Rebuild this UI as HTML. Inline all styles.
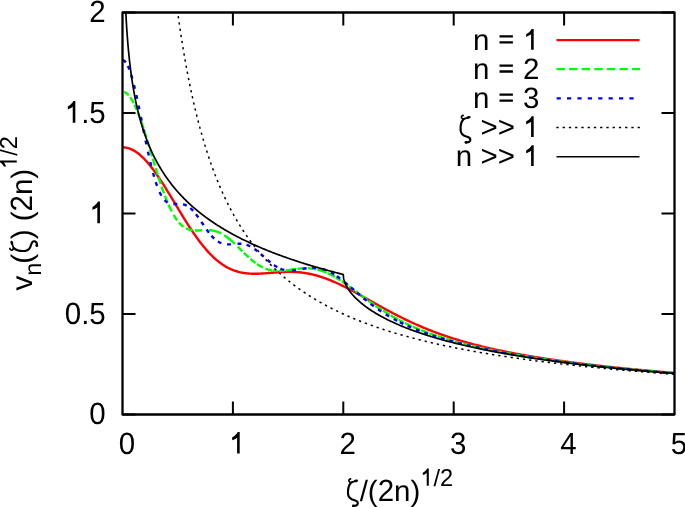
<!DOCTYPE html>
<html><head><meta charset="utf-8">
<style>
html,body{margin:0;padding:0;background:#fff;}
body{width:685px;height:507px;overflow:hidden;}
svg{display:block;will-change:transform;}
text{text-rendering:geometricPrecision;font-family:"Liberation Sans",sans-serif;font-size:29.5px;fill:#000;}
</style></head><body>
<svg width="685" height="507" viewBox="0 0 685 507">
<defs>
<clipPath id="c"><rect x="122.5" y="12.5" width="552" height="402"/></clipPath>
</defs>
<g stroke="#000" stroke-width="2" fill="none">
<path d="M122.5,414.5h13M674.5,414.5h-13 M122.5,314h13M674.5,314h-13 M122.5,213.5h13M674.5,213.5h-13 M122.5,113h13M674.5,113h-13 M122.5,12.5h13M674.5,12.5h-13"/>
<path d="M232.9,414.5v-13M232.9,12.5v13 M343.3,414.5v-13M343.3,12.5v13 M453.7,414.5v-13M453.7,12.5v13 M564.1,414.5v-13M564.1,12.5v13"/>
</g>
<text transform="matrix(1,0,0,1.04,89.35,424.20)">0</text>
<text transform="matrix(1,0,0,1.04,64.75,323.70)">0</text>
<text x="81.15" y="323.70" xml:space="preserve">.</text>
<text transform="matrix(1,0,0,1.04,89.35,323.70)">5</text>
<path d="M359,0 L359,-705 L292,-705 C262,-645 200,-580 104,-530 L104,-434 C170,-458 232,-488 271,-520 L271,0 Z" transform="translate(89.35,223.20) scale(0.02950,0.03068)"/>
<path d="M359,0 L359,-705 L292,-705 C262,-645 200,-580 104,-530 L104,-434 C170,-458 232,-488 271,-520 L271,0 Z" transform="translate(64.75,122.70) scale(0.02950,0.03068)"/>
<text x="81.15" y="122.70" xml:space="preserve">.</text>
<text transform="matrix(1,0,0,1.04,89.35,122.70)">5</text>
<text transform="matrix(1,0,0,1.04,89.35,22.20)">2</text>
<text transform="matrix(1,0,0,1.04,118.70,453.60)">0</text>
<path d="M359,0 L359,-705 L292,-705 C262,-645 200,-580 104,-530 L104,-434 C170,-458 232,-488 271,-520 L271,0 Z" transform="translate(229.10,453.60) scale(0.02950,0.03068)"/>
<text transform="matrix(1,0,0,1.04,339.50,453.60)">2</text>
<text transform="matrix(1,0,0,1.04,449.90,453.60)">3</text>
<text transform="matrix(1,0,0,1.04,560.30,453.60)">4</text>
<text transform="matrix(1,0,0,1.04,670.70,453.60)">5</text>
<g transform="translate(345.10,500.50) scale(0.02950)" fill="none" stroke="#000" stroke-linecap="round" stroke-linejoin="round"><path d="M185,-734 C140,-722 118,-690 128,-660 C138,-630 170,-612 205,-610 C260,-625 300,-650 364,-661" stroke-width="55"/><path d="M205,-610 C130,-530 85,-380 102,-210 C118,-80 205,-40 320,-10 C400,12 440,55 428,110 C412,165 340,188 280,182" stroke-width="72"/><ellipse cx="372" cy="-666" rx="72" ry="46" transform="rotate(-15 372 -666)" fill="#000" stroke="none"/><circle cx="282" cy="180" r="48" fill="#000" stroke="none"/></g>
<text x="359.67" y="500.50" xml:space="preserve">/(</text>
<text transform="matrix(1,0,0,1.04,377.70,500.50)">2</text>
<text x="394.10" y="500.50" xml:space="preserve">n)</text>
<path d="M359,0 L359,-705 L292,-705 C262,-645 200,-580 104,-530 L104,-434 C170,-458 232,-488 271,-520 L271,0 Z" transform="translate(420.33,485.75) scale(0.02360,0.02454)"/>
<text x="433.45" y="485.75" style="font-size:23.60px" xml:space="preserve">/</text>
<text transform="matrix(1,0,0,1.04,440.01,485.75)" style="font-size:23.60px">2</text>
<g transform="translate(31.5,290.6) rotate(-90)"><text x="0.00" y="0.00" xml:space="preserve">v</text>
<text x="14.75" y="9.45" style="font-size:23.60px" xml:space="preserve">n</text>
<text x="26.87" y="0.00" xml:space="preserve">(</text>
<g transform="translate(36.70,0.00) scale(0.02950)" fill="none" stroke="#000" stroke-linecap="round" stroke-linejoin="round"><path d="M185,-734 C140,-722 118,-690 128,-660 C138,-630 170,-612 205,-610 C260,-625 300,-650 364,-661" stroke-width="55"/><path d="M205,-610 C130,-530 85,-380 102,-210 C118,-80 205,-40 320,-10 C400,12 440,55 428,110 C412,165 340,188 280,182" stroke-width="72"/><ellipse cx="372" cy="-666" rx="72" ry="46" transform="rotate(-15 372 -666)" fill="#000" stroke="none"/><circle cx="282" cy="180" r="48" fill="#000" stroke="none"/></g>
<text x="51.27" y="0.00" xml:space="preserve">) (</text>
<text transform="matrix(1,0,0,1.04,79.12,0.00)">2</text>
<text x="95.52" y="0.00" xml:space="preserve">n)</text>
<path d="M359,0 L359,-705 L292,-705 C262,-645 200,-580 104,-530 L104,-434 C170,-458 232,-488 271,-520 L271,0 Z" transform="translate(121.74,-14.75) scale(0.02360,0.02454)"/>
<text x="134.87" y="-14.75" style="font-size:23.60px" xml:space="preserve">/</text>
<text transform="matrix(1,0,0,1.04,141.43,-14.75)" style="font-size:23.60px">2</text></g>
<text x="473.07" y="49.70" xml:space="preserve">n</text>
<path d="M62,-488 H516 V-410 H62 Z M62,-287 H516 V-209 H62 Z" transform="translate(497.67,49.70) scale(0.02950)"/>
<path d="M359,0 L359,-705 L292,-705 C262,-645 200,-580 104,-530 L104,-434 C170,-458 232,-488 271,-520 L271,0 Z" transform="translate(523.10,49.70) scale(0.02950,0.02950)"/>
<text x="473.07" y="78.80" xml:space="preserve">n</text>
<path d="M62,-488 H516 V-410 H62 Z M62,-287 H516 V-209 H62 Z" transform="translate(497.67,78.80) scale(0.02950)"/>
<text x="523.10" y="78.80" xml:space="preserve">2</text>
<text x="473.07" y="107.90" xml:space="preserve">n</text>
<path d="M62,-488 H516 V-410 H62 Z M62,-287 H516 V-209 H62 Z" transform="translate(497.67,107.90) scale(0.02950)"/>
<text x="523.10" y="107.90" xml:space="preserve">3</text>
<g transform="translate(457.67,137.00) scale(0.02950)" fill="none" stroke="#000" stroke-linecap="round" stroke-linejoin="round"><path d="M185,-734 C140,-722 118,-690 128,-660 C138,-630 170,-612 205,-610 C260,-625 300,-650 364,-661" stroke-width="55"/><path d="M205,-610 C130,-530 85,-380 102,-210 C118,-80 205,-40 320,-10 C400,12 440,55 428,110 C412,165 340,188 280,182" stroke-width="72"/><ellipse cx="372" cy="-666" rx="72" ry="46" transform="rotate(-15 372 -666)" fill="#000" stroke="none"/><circle cx="282" cy="180" r="48" fill="#000" stroke="none"/></g>
<text x="480.44" y="137.00" xml:space="preserve">&gt;&gt;</text>
<path d="M359,0 L359,-705 L292,-705 C262,-645 200,-580 104,-530 L104,-434 C170,-458 232,-488 271,-520 L271,0 Z" transform="translate(523.10,137.00) scale(0.02950,0.02950)"/>
<text x="455.84" y="166.10" xml:space="preserve">n &gt;&gt;</text>
<path d="M359,0 L359,-705 L292,-705 C262,-645 200,-580 104,-530 L104,-434 C170,-458 232,-488 271,-520 L271,0 Z" transform="translate(523.10,166.10) scale(0.02950,0.02950)"/>
<g fill="none">
<path d="M556.5,40.2H639.5" stroke="#ff0000" stroke-width="2.2"/>
<path d="M556.5,69.1H640" stroke="#00ff00" stroke-width="2.2" stroke-dasharray="8.4 4.2"/>
<path d="M556.6,98.4H639.3" stroke="#0000ff" stroke-width="2.2" stroke-dasharray="4.2 6.2"/>
<path d="M556.35,127.6H640" stroke="#000" stroke-width="1.5" stroke-dasharray="2.3 3.95"/>
<path d="M556.5,156.7H639.5" stroke="#000" stroke-width="1.5"/>
</g>
<g clip-path="url(#c)" fill="none" stroke-linejoin="round">
<path d="M122.50,147.30 L123.60,147.33 L124.71,147.43 L125.81,147.58 L126.92,147.80 L128.02,148.08 L129.12,148.42 L130.23,148.82 L131.33,149.28 L132.44,149.81 L133.54,150.39 L134.64,151.03 L135.75,151.73 L136.85,152.48 L137.96,153.29 L139.06,154.16 L140.16,155.08 L141.27,156.05 L142.37,157.08 L143.48,158.15 L144.58,159.28 L145.68,160.45 L146.79,161.67 L147.89,162.93 L149.00,164.24 L150.10,165.59 L151.20,166.98 L152.31,168.41 L153.41,169.88 L154.52,171.38 L155.62,172.92 L156.72,174.48 L157.83,176.08 L158.93,177.71 L160.04,179.37 L161.14,181.05 L162.24,182.75 L163.35,184.47 L164.45,186.22 L165.56,187.98 L166.66,189.76 L167.76,191.55 L168.87,193.35 L169.97,195.16 L171.08,196.98 L172.18,198.81 L173.28,200.64 L174.39,202.48 L175.49,204.31 L176.60,206.15 L177.70,207.98 L178.80,209.81 L179.91,211.63 L181.01,213.45 L182.12,215.25 L183.22,217.05 L184.32,218.83 L185.43,220.60 L186.53,222.35 L187.64,224.09 L188.74,225.81 L189.84,227.51 L190.95,229.18 L192.05,230.84 L193.16,232.47 L194.26,234.08 L195.36,235.66 L196.47,237.22 L197.57,238.74 L198.68,240.24 L199.78,241.71 L200.88,243.15 L201.99,244.56 L203.09,245.94 L204.20,247.28 L205.30,248.59 L206.40,249.87 L207.51,251.11 L208.61,252.32 L209.72,253.49 L210.82,254.63 L211.92,255.74 L213.03,256.80 L214.13,257.83 L215.24,258.83 L216.34,259.79 L217.44,260.72 L218.55,261.60 L219.65,262.46 L220.76,263.27 L221.86,264.06 L222.96,264.80 L224.07,265.51 L225.17,266.19 L226.28,266.84 L227.38,267.45 L228.48,268.02 L229.59,268.57 L230.69,269.08 L231.80,269.56 L232.90,270.01 L234.00,270.43 L235.11,270.82 L236.21,271.18 L237.32,271.52 L238.42,271.83 L239.52,272.11 L240.63,272.36 L241.73,272.59 L242.84,272.80 L243.94,272.98 L245.04,273.14 L246.15,273.28 L247.25,273.40 L248.36,273.50 L249.46,273.59 L250.56,273.65 L251.67,273.70 L252.77,273.73 L253.88,273.75 L254.98,273.75 L256.08,273.74 L257.19,273.72 L258.29,273.69 L259.40,273.65 L260.50,273.60 L261.60,273.54 L262.71,273.48 L263.81,273.40 L264.92,273.33 L266.02,273.25 L267.12,273.16 L268.23,273.07 L269.33,272.98 L270.44,272.89 L271.54,272.80 L272.64,272.71 L273.75,272.62 L274.85,272.53 L275.96,272.45 L277.06,272.37 L278.16,272.29 L279.27,272.22 L280.37,272.15 L281.48,272.09 L282.58,272.03 L283.68,271.99 L284.79,271.95 L285.89,271.91 L287.00,271.89 L288.10,271.87 L289.20,271.87 L290.31,271.87 L291.41,271.89 L292.52,271.91 L293.62,271.95 L294.72,272.00 L295.83,272.06 L296.93,272.13 L298.04,272.21 L299.14,272.31 L300.24,272.42 L301.35,272.54 L302.45,272.67 L303.56,272.82 L304.66,272.98 L305.76,273.15 L306.87,273.33 L307.97,273.53 L309.08,273.74 L310.18,273.97 L311.28,274.20 L312.39,274.45 L313.49,274.72 L314.60,274.99 L315.70,275.28 L316.80,275.59 L317.91,275.90 L319.01,276.23 L320.12,276.57 L321.22,276.92 L322.32,277.28 L323.43,277.66 L324.53,278.04 L325.64,278.44 L326.74,278.85 L327.84,279.27 L328.95,279.70 L330.05,280.14 L331.16,280.60 L332.26,281.06 L333.36,281.53 L334.47,282.01 L335.57,282.50 L336.68,282.99 L337.78,283.50 L338.88,284.01 L339.99,284.54 L341.09,285.07 L342.20,285.60 L343.30,286.15 L344.40,286.70 L345.51,287.25 L346.61,287.82 L347.72,288.38 L348.82,288.96 L349.92,289.54 L351.03,290.12 L352.13,290.71 L353.24,291.30 L354.34,291.90 L355.44,292.50 L356.55,293.10 L357.65,293.71 L358.76,294.32 L359.86,294.93 L360.96,295.54 L362.07,296.16 L363.17,296.77 L364.28,297.39 L365.38,298.01 L366.48,298.63 L367.59,299.25 L368.69,299.87 L369.80,300.49 L370.90,301.12 L372.00,301.74 L373.11,302.36 L374.21,302.98 L375.32,303.59 L376.42,304.21 L377.52,304.83 L378.63,305.44 L379.73,306.06 L380.84,306.67 L381.94,307.28 L383.04,307.88 L384.15,308.49 L385.25,309.09 L386.36,309.69 L387.46,310.28 L388.56,310.88 L389.67,311.47 L390.77,312.05 L391.88,312.64 L392.98,313.22 L394.08,313.79 L395.19,314.37 L396.29,314.94 L397.40,315.50 L398.50,316.06 L399.60,316.62 L400.71,317.18 L401.81,317.73 L402.92,318.27 L404.02,318.81 L405.12,319.35 L406.23,319.88 L407.33,320.41 L408.44,320.94 L409.54,321.46 L410.64,321.97 L411.75,322.48 L412.85,322.99 L413.96,323.49 L415.06,323.99 L416.16,324.48 L417.27,324.97 L418.37,325.45 L419.48,325.93 L420.58,326.41 L421.68,326.88 L422.79,327.34 L423.89,327.80 L425.00,328.26 L426.10,328.71 L427.20,329.16 L428.31,329.60 L429.41,330.04 L430.52,330.48 L431.62,330.91 L432.72,331.33 L433.83,331.75 L434.93,332.17 L436.04,332.58 L437.14,332.99 L438.24,333.39 L439.35,333.79 L440.45,334.19 L441.56,334.58 L442.66,334.97 L443.76,335.35 L444.87,335.73 L445.97,336.11 L447.08,336.48 L448.18,336.85 L449.28,337.21 L450.39,337.57 L451.49,337.93 L452.60,338.28 L453.70,338.63 L454.80,338.98 L455.91,339.32 L457.01,339.66 L458.12,339.99 L459.22,340.33 L460.32,340.65 L461.43,340.98 L462.53,341.30 L463.64,341.62 L464.74,341.93 L465.84,342.24 L466.95,342.55 L468.05,342.86 L469.16,343.16 L470.26,343.46 L471.36,343.76 L472.47,344.05 L473.57,344.34 L474.68,344.63 L475.78,344.92 L476.88,345.20 L477.99,345.48 L479.09,345.75 L480.20,346.03 L481.30,346.30 L482.40,346.57 L483.51,346.84 L484.61,347.10 L485.72,347.36 L486.82,347.62 L487.92,347.88 L489.03,348.13 L490.13,348.38 L491.24,348.63 L492.34,348.88 L493.44,349.13 L494.55,349.37 L495.65,349.61 L496.76,349.85 L497.86,350.09 L498.96,350.32 L500.07,350.55 L501.17,350.78 L502.28,351.01 L503.38,351.24 L504.48,351.46 L505.59,351.69 L506.69,351.91 L507.80,352.13 L508.90,352.34 L510.00,352.56 L511.11,352.77 L512.21,352.99 L513.32,353.20 L514.42,353.41 L515.52,353.61 L516.63,353.82 L517.73,354.02 L518.84,354.22 L519.94,354.42 L521.04,354.62 L522.15,354.82 L523.25,355.02 L524.36,355.21 L525.46,355.40 L526.56,355.60 L527.67,355.79 L528.77,355.97 L529.88,356.16 L530.98,356.35 L532.08,356.53 L533.19,356.72 L534.29,356.90 L535.40,357.08 L536.50,357.26 L537.60,357.44 L538.71,357.61 L539.81,357.79 L540.92,357.96 L542.02,358.14 L543.12,358.31 L544.23,358.48 L545.33,358.65 L546.44,358.82 L547.54,358.98 L548.64,359.15 L549.75,359.31 L550.85,359.48 L551.96,359.64 L553.06,359.80 L554.16,359.96 L555.27,360.12 L556.37,360.28 L557.48,360.44 L558.58,360.60 L559.68,360.75 L560.79,360.91 L561.89,361.06 L563.00,361.21 L564.10,361.36 L565.20,361.51 L566.31,361.66 L567.41,361.81 L568.52,361.96 L569.62,362.11 L570.72,362.25 L571.83,362.40 L572.93,362.54 L574.04,362.69 L575.14,362.83 L576.24,362.97 L577.35,363.11 L578.45,363.25 L579.56,363.39 L580.66,363.53 L581.76,363.67 L582.87,363.80 L583.97,363.94 L585.08,364.07 L586.18,364.21 L587.28,364.34 L588.39,364.48 L589.49,364.61 L590.60,364.74 L591.70,364.87 L592.80,365.00 L593.91,365.13 L595.01,365.26 L596.12,365.38 L597.22,365.51 L598.32,365.64 L599.43,365.76 L600.53,365.89 L601.64,366.01 L602.74,366.13 L603.84,366.26 L604.95,366.38 L606.05,366.50 L607.16,366.62 L608.26,366.74 L609.36,366.86 L610.47,366.98 L611.57,367.10 L612.68,367.22 L613.78,367.33 L614.88,367.45 L615.99,367.57 L617.09,367.68 L618.20,367.79 L619.30,367.91 L620.40,368.02 L621.51,368.13 L622.61,368.25 L623.72,368.36 L624.82,368.47 L625.92,368.58 L627.03,368.69 L628.13,368.80 L629.24,368.91 L630.34,369.02 L631.44,369.12 L632.55,369.23 L633.65,369.34 L634.76,369.44 L635.86,369.55 L636.96,369.65 L638.07,369.76 L639.17,369.86 L640.28,369.97 L641.38,370.07 L642.48,370.17 L643.59,370.27 L644.69,370.38 L645.80,370.48 L646.90,370.58 L648.00,370.68 L649.11,370.78 L650.21,370.88 L651.32,370.97 L652.42,371.07 L653.52,371.17 L654.63,371.27 L655.73,371.36 L656.84,371.46 L657.94,371.56 L659.04,371.65 L660.15,371.75 L661.25,371.84 L662.36,371.94 L663.46,372.03 L664.56,372.12 L665.67,372.22 L666.77,372.31 L667.88,372.40 L668.98,372.49 L670.08,372.58 L671.19,372.67 L672.29,372.76 L673.40,372.85 L674.50,372.94" stroke="#ff0000" stroke-width="2.4"/>
<path d="M124.07,91.99 L125.04,92.36 L125.92,92.84 L126.81,93.47 L127.58,94.16 L128.35,94.93 L128.71,95.33M130.21,97.21 L130.78,98.06 L131.44,99.06 L132.00,99.99 L132.55,100.93 L133.10,101.95 L133.65,102.99 L133.68,103.05M134.52,104.75 L134.97,105.72 L135.42,106.68 L135.86,107.66 L136.30,108.68 L136.74,109.70 L136.85,109.95M137.81,112.32 L138.18,113.26 L138.62,114.41 L139.06,115.55 L139.50,116.75 L139.94,117.96 L140.34,119.06M141.19,121.47 L141.60,122.65 L141.93,123.62 L142.26,124.60 L142.59,125.59 L142.93,126.59 L143.26,127.59 L143.49,128.29M144.27,130.73 L144.58,131.69 L144.91,132.74 L145.24,133.79 L145.57,134.84 L145.90,135.90 L146.24,136.97 L146.43,137.59M147.18,140.04 L147.56,141.28 L147.89,142.37 L148.22,143.47 L148.56,144.56 L148.89,145.66 L149.22,146.76 L149.27,146.93M150.00,149.37 L150.32,150.44 L150.65,151.54 L150.98,152.65 L151.31,153.76 L151.64,154.87 L151.98,155.97 L152.07,156.27M152.80,158.72 L153.19,160.02 L153.52,161.12 L153.85,162.22 L154.19,163.31 L154.52,164.41 L154.85,165.50 L154.88,165.61M155.63,168.05 L155.95,169.10 L156.28,170.18 L156.61,171.25 L156.94,172.31 L157.28,173.37 L157.61,174.43 L157.77,174.93M158.54,177.36 L158.93,178.59 L159.26,179.60 L159.60,180.62 L159.93,181.63 L160.26,182.63 L160.59,183.62 L160.78,184.20M161.60,186.62 L162.02,187.84 L162.35,188.79 L162.80,190.03 L163.24,191.28 L163.68,192.49 L164.01,193.41M164.91,195.80 L165.34,196.91 L165.78,198.05 L166.22,199.16 L166.66,200.27 L167.10,201.33 L167.54,202.40 L167.58,202.49M168.59,204.83 L169.09,205.94 L169.53,206.90 L169.97,207.86 L170.41,208.77 L170.86,209.68 L171.41,210.78 L171.78,211.51M173.66,214.93 L174.28,215.97 L174.83,216.86 L175.38,217.74 L176.05,218.72 L176.71,219.67 L177.16,220.28M178.97,222.54 L179.69,223.33 L180.46,224.13 L181.23,224.89 L182.01,225.58 L182.89,226.30 L183.50,226.76M185.96,228.28 L186.86,228.72 L187.86,229.14 L188.85,229.49 L189.84,229.79 L190.84,230.01 L191.83,230.19 L192.52,230.29M194.91,230.47 L195.92,230.49 L197.02,230.48 L198.12,230.45 L199.23,230.40 L200.33,230.34 L201.44,230.26 L202.21,230.22M208.90,230.12 L209.94,230.19 L211.04,230.30 L212.03,230.44 L213.03,230.61 L214.02,230.83 L215.02,231.07 L216.01,231.36 L217.00,231.69 L218.00,232.06 L218.99,232.47 L219.98,232.92 L220.98,233.41 L221.14,233.49M224.08,235.20 L224.95,235.77 L225.84,236.39 L226.72,237.02 L227.60,237.68 L228.48,238.37 L229.26,239.00 L230.03,239.64 L230.80,240.30 L231.58,240.97 L232.35,241.66 L233.12,242.35 L233.89,243.07 L234.67,243.79 L234.85,243.96M237.65,246.67 L238.42,247.42 L239.19,248.18 L239.96,248.95 L240.74,249.71 L241.51,250.48 L242.28,251.25 L242.42,251.38M243.85,252.78 L244.60,253.51 L245.37,254.26 L246.15,255.00 L246.92,255.73 L247.69,256.45 L248.47,257.16 L248.72,257.38M250.51,258.98 L251.34,259.69 L252.11,260.33 L252.99,261.05 L253.88,261.75 L254.76,262.42 L255.50,262.98M257.06,264.07 L257.96,264.67 L258.85,265.23 L259.73,265.76 L260.61,266.27 L261.49,266.75 L262.49,267.26 L263.03,267.52M265.41,268.54 L266.35,268.89 L267.34,269.23 L268.34,269.53 L269.33,269.80 L270.33,270.04 L271.32,270.25 L271.95,270.36M273.14,270.54 L274.19,270.66 L275.29,270.76 L276.40,270.83 L277.50,270.87 L277.78,270.87M278.98,270.87 L280.04,270.85 L281.15,270.80 L282.25,270.72 L283.35,270.64 L284.35,270.54 L284.52,270.53M285.72,270.39 L286.78,270.27 L287.77,270.13 L288.87,269.99 L289.87,269.84 L290.86,269.70 L291.85,269.56 L292.85,269.42 L293.84,269.28 L294.83,269.15 L295.83,269.01 L296.22,268.96M297.42,268.82 L298.48,268.70 L299.58,268.59 L300.68,268.49 L301.79,268.41 L302.89,268.35 L304.00,268.30 L305.10,268.28 L306.20,268.27 L306.71,268.28M307.91,268.31 L308.97,268.36 L310.07,268.44 L311.17,268.55 L312.17,268.66 L313.16,268.79 L314.16,268.95 L315.15,269.13 L316.14,269.33 L316.32,269.37M317.49,269.64 L318.57,269.91 L319.56,270.18 L320.56,270.48 L321.55,270.80 L322.54,271.14 L323.54,271.49 L324.53,271.87 L325.53,272.27 L326.52,272.70 L326.63,272.74M327.73,273.24 L328.73,273.71 L329.72,274.19 L330.72,274.69 L331.71,275.21 L332.59,275.68 L333.47,276.16 L334.36,276.66 L334.83,276.93M335.87,277.55 L336.79,278.10 L337.67,278.63 L338.55,279.19 L339.44,279.75 L340.32,280.32 L340.70,280.57M341.70,281.23 L342.64,281.86 L343.52,282.46 L344.40,283.07 L345.29,283.69 L346.17,284.30 L347.05,284.93 L347.94,285.56 L348.33,285.84M349.31,286.54 L350.14,287.15 L351.03,287.80 L351.91,288.45 L352.80,289.10 L353.68,289.76 L354.56,290.41 L354.63,290.47M355.59,291.18 L356.44,291.81 L357.32,292.46 L358.20,293.12 L359.09,293.79 L359.97,294.44 L360.81,295.07M361.78,295.78 L362.62,296.41 L363.50,297.07 L364.39,297.72 L365.27,298.37 L366.15,299.02 L367.03,299.66 L367.43,299.96M368.41,300.66 L369.25,301.26 L370.13,301.90 L371.01,302.53 L371.89,303.15 L372.78,303.78 L373.66,304.39 L374.49,304.97M375.48,305.65 L376.31,306.22 L377.19,306.83 L378.07,307.42 L378.96,308.01 L379.84,308.60 L380.73,309.18 L381.61,309.75 L381.99,310.00M382.99,310.65 L383.93,311.24 L384.81,311.79 L385.69,312.35 L386.58,312.90 L387.46,313.44 L388.34,313.97 L389.23,314.50 L389.70,314.78M390.74,315.39 L391.66,315.93 L392.54,316.44 L393.42,316.94 L394.30,317.44 L395.19,317.93 L396.07,318.42 L396.96,318.90 L397.64,319.27M398.70,319.84 L399.60,320.31 L400.49,320.77 L401.48,321.29 L402.48,321.80 L403.47,322.29 L403.81,322.47M404.89,323.00 L405.90,323.49 L406.89,323.97 L407.88,324.44 L408.88,324.90 L409.87,325.36 L410.86,325.82 L411.64,326.16M412.74,326.66 L413.74,327.09 L414.73,327.53 L415.72,327.95 L416.72,328.38 L417.71,328.79 L418.70,329.20 L419.70,329.61 L420.02,329.74M421.14,330.19 L422.12,330.58 L423.12,330.97 L424.11,331.35 L425.11,331.73 L426.10,332.11 L427.09,332.48 L428.09,332.85 L428.41,332.96M429.53,333.37 L430.52,333.73 L431.51,334.08 L432.50,334.43 L433.50,334.78 L434.49,335.12 L435.49,335.45 L436.48,335.79 L436.57,335.82M437.71,336.20 L438.68,336.51 L439.68,336.84 L440.67,337.16 L441.67,337.47 L442.66,337.78 L443.65,338.10 L444.65,338.40 L444.96,338.50M446.10,338.84 L447.08,339.13 L448.07,339.43 L449.06,339.72 L450.06,340.01 L451.05,340.30 L452.05,340.58 L453.04,340.86 L453.56,341.01M454.72,341.34 L455.69,341.60 L456.68,341.87 L457.68,342.14 L458.67,342.41 L459.66,342.68 L460.65,342.94 L461.65,343.20 L462.17,343.34M463.33,343.63 L464.41,343.91 L465.40,344.16 L466.39,344.40 L467.39,344.65 L468.38,344.90 L469.38,345.14 L470.37,345.39 L470.89,345.51M472.05,345.79 L473.13,346.05 L474.12,346.28 L475.12,346.51 L476.11,346.74 L477.10,346.97 L478.10,347.20 L479.09,347.42 L479.61,347.54M480.79,347.80 L481.85,348.03 L482.84,348.25 L483.84,348.47 L484.83,348.69 L485.83,348.89 L486.82,349.11 L487.81,349.32 L488.44,349.45M489.62,349.69 L490.69,349.91 L491.68,350.12 L492.67,350.33 L493.66,350.52 L494.66,350.72 L495.65,350.92 L496.65,351.12 L497.27,351.24M498.45,351.48 L499.51,351.69 L500.51,351.87 L501.50,352.06 L502.50,352.25 L503.49,352.44 L504.48,352.63 L505.48,352.82 L506.10,352.93M507.28,353.15 L508.35,353.34 L509.34,353.52 L510.33,353.70 L511.33,353.88 L512.32,354.06 L513.32,354.24 L514.31,354.41 L514.93,354.52M516.11,354.73 L517.18,354.91 L518.17,355.08 L519.17,355.25 L520.16,355.42 L521.15,355.59 L522.15,355.75 L523.14,355.92 L523.77,356.02M524.95,356.22 L526.01,356.39 L527.00,356.55 L528.00,356.71 L528.99,356.87 L529.99,357.03 L530.98,357.19 L531.97,357.34 L532.60,357.44M533.78,357.63 L534.85,357.79 L535.84,357.95 L536.83,358.10 L537.82,358.25 L538.82,358.40 L539.81,358.55 L540.81,358.70 L541.43,358.79M542.61,358.97 L543.67,359.12 L544.67,359.27 L545.66,359.42 L546.66,359.56 L547.65,359.70 L548.75,359.86 L549.75,360.00 L550.37,360.09M551.56,360.26 L552.62,360.41 L553.72,360.56 L554.71,360.69 L555.71,360.83 L556.70,360.97 L557.70,361.11 L558.80,361.25 L559.20,361.30M560.39,361.47 L561.45,361.61 L562.44,361.74 L563.44,361.87 L564.54,362.02 L565.53,362.15 L566.53,362.28 L567.63,362.42 L568.14,362.48M569.34,362.63 L570.39,362.77 L571.39,362.89 L572.38,363.02 L573.37,363.15 L574.37,363.27 L575.47,363.41 L576.57,363.54 L577.08,363.61M578.28,363.75 L579.34,363.88 L580.44,364.01 L581.54,364.14 L582.54,364.27 L583.53,364.39 L584.53,364.50 L585.52,364.62 L585.91,364.67M587.11,364.81 L588.17,364.93 L589.27,365.05 L590.27,365.17 L591.37,365.29 L592.47,365.42 L593.47,365.54 L594.46,365.65 L594.86,365.69M596.05,365.82 L597.11,365.95 L598.21,366.07 L599.21,366.18 L600.31,366.30 L601.31,366.40 L602.41,366.52 L603.51,366.64 L603.80,366.68M604.99,366.80 L606.05,366.92 L607.05,367.02 L608.15,367.14 L609.25,367.26 L610.25,367.36 L611.35,367.48 L612.35,367.58 L612.74,367.62M613.94,367.74 L614.99,367.85 L615.99,367.95 L617.09,368.06 L618.09,368.16 L619.19,368.27 L620.29,368.38 L621.29,368.48 L621.68,368.52M622.88,368.64 L623.94,368.74 L625.04,368.85 L626.14,368.96 L627.14,369.05 L628.24,369.16 L629.24,369.26 L630.34,369.36 L630.62,369.39M631.82,369.50 L632.88,369.60 L633.98,369.70 L634.98,369.80 L636.08,369.90 L637.18,370.00 L638.18,370.09 L639.28,370.20 L639.57,370.23M640.77,370.33 L641.82,370.43 L642.92,370.53 L643.92,370.62 L645.02,370.72 L646.02,370.81 L647.12,370.90 L648.22,371.00 L648.51,371.03M649.71,371.13 L650.77,371.22 L651.87,371.32 L652.97,371.41 L654.08,371.51 L655.18,371.61 L656.29,371.70 L657.39,371.79 L657.45,371.80M658.65,371.90 L659.71,371.99 L660.81,372.08 L661.92,372.17 L663.02,372.26 L664.12,372.35 L665.23,372.44 L666.33,372.54 L666.39,372.55M667.59,372.65 L668.65,372.73 L669.75,372.81 L670.86,372.90 L671.96,372.99 L673.07,373.08 L673.90,373.15" stroke="#00ff00" stroke-width="2.4"/>
<path d="M122.74,60.23 L123.71,60.49 L124.60,61.09 L125.37,61.90 L125.83,62.42M127.82,65.88 L128.24,66.79 L128.68,67.84 L129.12,68.89 L129.33,69.48M131.17,74.87 L131.55,76.13 L131.88,77.28 L132.22,78.42 L132.27,78.61M133.95,84.99 L134.20,86.00 L134.53,87.34 L134.86,88.73 L134.88,88.78M136.31,95.02 L136.63,96.48 L136.85,97.47 L137.07,98.50 L137.14,98.83M138.55,105.48 L138.84,106.88 L139.06,107.94 L139.28,109.02 L139.34,109.30M140.88,116.95 L141.16,118.32 L141.38,119.42 L141.60,120.53 L141.65,120.77M143.27,128.91 L143.48,129.95 L143.70,131.05 L143.92,132.15 L144.04,132.74M145.62,140.58 L145.90,141.95 L146.12,143.01 L146.35,144.08 L146.41,144.40M147.97,151.73 L148.22,152.89 L148.44,153.89 L148.67,154.90 L148.81,155.54M150.30,162.07 L150.54,163.06 L150.87,164.45 L151.20,165.83 L151.21,165.87M153.07,173.03 L153.41,174.30 L153.74,175.45 L154.08,176.60 L154.13,176.78M155.77,182.14 L156.17,183.33 L156.50,184.31 L156.83,185.27 L157.04,185.82M159.61,192.12 L160.04,193.05 L160.59,194.11 L161.14,195.17 L161.39,195.59M164.56,200.06 L165.34,200.84 L166.11,201.51 L166.99,202.17 L167.56,202.53M173.40,204.03 L174.50,204.03 L175.60,203.99 L176.60,203.94 L177.30,203.91M183.07,204.26 L184.10,204.54 L185.10,204.88 L186.09,205.31 L186.71,205.62M190.31,208.13 L191.17,208.89 L191.94,209.64 L192.72,210.45 L193.10,210.85M195.98,214.31 L196.69,215.24 L197.35,216.12 L198.01,217.04 L198.30,217.44M201.37,221.88 L201.99,222.79 L202.65,223.77 L203.31,224.75 L203.56,225.11M206.63,229.55 L207.29,230.45 L207.95,231.35 L208.61,232.24 L208.96,232.68M211.50,235.77 L212.25,236.60 L213.03,237.43 L213.80,238.19 L214.20,238.58M217.89,241.48 L218.77,242.02 L219.65,242.51 L220.65,242.97 L221.36,243.25M227.02,244.37 L228.04,244.40 L229.15,244.38 L230.25,244.33 L230.92,244.29M237.49,243.74 L238.53,243.70 L239.63,243.69 L240.74,243.74 L241.39,243.79M246.57,244.81 L247.58,245.16 L248.58,245.56 L249.57,246.01 L250.17,246.31M254.43,248.91 L255.31,249.54 L256.19,250.20 L257.08,250.89 L257.54,251.27M260.82,254.05 L261.60,254.74 L262.38,255.43 L263.15,256.12 L263.73,256.65M267.39,259.90 L268.23,260.63 L269.00,261.28 L269.77,261.92 L270.38,262.41M273.97,265.11 L274.85,265.71 L275.74,266.26 L276.62,266.79 L277.28,267.17M280.44,268.69 L281.37,269.05 L282.36,269.39 L283.35,269.68 L284.14,269.89M292.09,270.52 L293.18,270.45 L294.28,270.34 L295.27,270.22 L295.96,270.12M302.56,268.96 L303.56,268.77 L304.55,268.60 L305.54,268.43 L306.40,268.29M312.17,267.72 L313.27,267.70 L314.38,267.72 L315.48,267.76 L316.07,267.80M322.55,268.98 L323.54,269.28 L324.53,269.61 L325.53,269.98 L326.23,270.26M330.83,272.46 L331.71,272.95 L332.59,273.47 L333.47,274.00 L334.19,274.44M336.85,276.21 L337.67,276.79 L338.55,277.43 L339.44,278.08 L340.01,278.50M344.56,282.09 L345.40,282.77 L346.17,283.41 L346.94,284.06 L347.57,284.58M350.84,287.37 L351.69,288.10 L352.46,288.77 L353.24,289.43 L353.80,289.91M356.98,292.66 L357.76,293.33 L358.54,293.99 L359.31,294.65 L359.94,295.19M363.62,298.27 L364.50,299.00 L365.38,299.72 L366.26,300.43 L366.64,300.74M370.65,303.89 L371.45,304.50 L372.33,305.17 L373.22,305.83 L373.77,306.24M378.07,309.33 L378.96,309.95 L379.84,310.55 L380.73,311.15 L381.30,311.52M385.75,314.39 L386.69,314.96 L387.57,315.50 L388.45,316.02 L389.09,316.40M393.70,319.03 L394.63,319.53 L395.52,320.01 L396.51,320.54 L397.14,320.86M399.81,322.22 L400.71,322.67 L401.70,323.16 L402.70,323.63 L403.32,323.93M407.59,325.90 L408.55,326.33 L409.54,326.76 L410.53,327.19 L411.16,327.46M415.97,329.43 L416.94,329.82 L417.93,330.21 L418.93,330.60 L419.60,330.86M424.29,332.59 L425.33,332.97 L426.32,333.32 L427.31,333.67 L427.97,333.89M432.51,335.43 L433.50,335.75 L434.49,336.07 L435.49,336.38 L436.23,336.62M440.81,338.05 L441.78,338.34 L442.77,338.63 L443.76,338.92 L444.55,339.16M449.43,340.55 L450.50,340.84 L451.49,341.12 L452.49,341.39 L453.19,341.58M458.10,342.87 L459.11,343.13 L460.10,343.39 L461.10,343.64 L461.88,343.83M466.81,345.05 L467.83,345.30 L468.83,345.53 L469.82,345.77 L470.60,345.95M475.55,347.08 L476.55,347.31 L477.55,347.53 L478.54,347.75 L479.36,347.93M484.32,348.99 L485.39,349.21 L486.38,349.42 L487.37,349.62 L488.14,349.79M493.12,350.79 L494.11,350.98 L495.10,351.18 L496.09,351.37 L496.94,351.54M501.93,352.48 L502.94,352.67 L503.93,352.86 L504.92,353.04 L505.77,353.19M510.76,354.09 L511.77,354.26 L512.77,354.43 L513.76,354.61 L514.61,354.75M519.61,355.60 L520.60,355.77 L521.60,355.93 L522.59,356.09 L523.46,356.23M528.47,357.04 L529.55,357.21 L530.54,357.37 L531.53,357.52 L532.32,357.65M537.34,358.41 L538.38,358.56 L539.37,358.71 L540.37,358.86 L541.20,358.98M546.22,359.71 L547.32,359.87 L548.42,360.02 L549.42,360.16 L550.08,360.26M555.11,360.95 L556.15,361.09 L557.15,361.23 L558.14,361.36 L558.98,361.47M564.01,362.13 L565.09,362.27 L566.09,362.40 L567.08,362.53 L567.88,362.63M572.91,363.26 L573.93,363.39 L575.03,363.52 L576.13,363.66 L576.79,363.73M581.83,364.34 L582.87,364.46 L583.97,364.59 L584.97,364.71 L585.70,364.79M590.74,365.37 L591.81,365.49 L592.91,365.61 L593.91,365.73 L594.62,365.81M599.66,366.37 L600.75,366.48 L601.75,366.58 L602.85,366.70 L603.54,366.78M608.59,367.31 L609.69,367.43 L610.69,367.53 L611.79,367.64 L612.47,367.71M617.52,368.22 L618.53,368.32 L619.63,368.43 L620.73,368.54 L621.40,368.61M626.45,369.10 L627.47,369.19 L628.57,369.30 L629.57,369.39 L630.33,369.47M635.39,369.94 L636.41,370.04 L637.52,370.14 L638.62,370.24 L639.27,370.30M644.33,370.75 L645.36,370.84 L646.46,370.94 L647.56,371.04 L648.21,371.10M653.27,371.54 L654.30,371.62 L655.40,371.71 L656.51,371.81 L657.15,371.87M662.21,372.29 L663.24,372.37 L664.34,372.46 L665.34,372.54 L666.10,372.61M671.16,373.02 L672.18,373.09 L673.18,373.17 L674.28,373.26 L674.50,373.28" stroke="#0000ff" stroke-width="2.4"/>
<path d="M172.18,-32.17 L173.28,-22.46 L174.39,-13.16 L175.49,-4.25 L176.60,4.30 L177.70,12.50 L178.80,20.38 L179.91,27.96 L181.01,35.25 L182.12,42.28 L183.22,49.05 L184.32,55.57 L185.43,61.87 L186.53,67.95 L187.64,73.82 L188.74,79.50 L189.84,84.99 L190.95,90.31 L192.05,95.45 L193.16,100.44 L194.26,105.27 L195.36,109.95 L196.47,114.50 L197.57,118.91 L198.68,123.20 L199.78,127.36 L200.88,131.40 L201.99,135.33 L203.09,139.16 L204.20,142.88 L205.30,146.50 L206.40,150.03 L207.51,153.46 L208.61,156.81 L209.72,160.07 L210.82,163.25 L211.92,166.35 L213.03,169.38 L214.13,172.33 L215.24,175.21 L216.34,178.03 L217.44,180.78 L218.55,183.47 L219.65,186.09 L220.76,188.66 L221.86,191.17 L222.96,193.62 L224.07,196.02 L225.17,198.37 L226.28,200.67 L227.38,202.92 L228.48,205.12 L229.59,207.28 L230.69,209.40 L231.80,211.47 L232.90,213.50 L234.00,215.49 L235.11,217.44 L236.21,219.35 L237.32,221.23 L238.42,223.07 L239.52,224.88 L240.63,226.65 L241.73,228.39 L242.84,230.10 L243.94,231.77 L245.04,233.42 L246.15,235.04 L247.25,236.62 L248.36,238.18 L249.46,239.72 L250.56,241.22 L251.67,242.71 L252.77,244.16 L253.88,245.59 L254.98,247.00 L256.08,248.38 L257.19,249.75 L258.29,251.09 L259.40,252.40 L260.50,253.70 L261.60,254.98 L262.71,256.23 L263.81,257.47 L264.92,258.69 L266.02,259.88 L267.12,261.06 L268.23,262.23 L269.33,263.37 L270.44,264.50 L271.54,265.61 L272.64,266.71 L273.75,267.78 L274.85,268.85 L275.96,269.90 L277.06,270.93 L278.16,271.95 L279.27,272.95 L280.37,273.94 L281.48,274.92 L282.58,275.88 L283.68,276.83 L284.79,277.77 L285.89,278.69 L287.00,279.60 L288.10,280.50 L289.20,281.39 L290.31,282.26 L291.41,283.13 L292.52,283.98 L293.62,284.82 L294.72,285.65 L295.83,286.47 L296.93,287.28 L298.04,288.08 L299.14,288.88 L300.24,289.66 L301.35,290.43 L302.45,291.19 L303.56,291.94 L304.66,292.68 L305.76,293.42 L306.87,294.14 L307.97,294.86 L309.08,295.57 L310.18,296.26 L311.28,296.96 L312.39,297.64 L313.49,298.32 L314.60,298.98 L315.70,299.64 L316.80,300.30 L317.91,300.94 L319.01,301.58 L320.12,302.21 L321.22,302.83 L322.32,303.45 L323.43,304.06 L324.53,304.66 L325.64,305.26 L326.74,305.85 L327.84,306.44 L328.95,307.01 L330.05,307.59 L331.16,308.15 L332.26,308.71 L333.36,309.26 L334.47,309.81 L335.57,310.35 L336.68,310.89 L337.78,311.42 L338.88,311.95 L339.99,312.47 L341.09,312.98 L342.20,313.49 L343.30,314.00 L344.40,314.50 L345.51,315.00 L346.61,315.49 L347.72,315.97 L348.82,316.45 L349.92,316.93 L351.03,317.40 L352.13,317.87 L353.24,318.33 L354.34,318.79 L355.44,319.24 L356.55,319.69 L357.65,320.13 L358.76,320.57 L359.86,321.01 L360.96,321.44 L362.07,321.87 L363.17,322.30 L364.28,322.72 L365.38,323.14 L366.48,323.55 L367.59,323.96 L368.69,324.37 L369.80,324.77 L370.90,325.17 L372.00,325.56 L373.11,325.95 L374.21,326.34 L375.32,326.73 L376.42,327.11 L377.52,327.49 L378.63,327.86 L379.73,328.23 L380.84,328.60 L381.94,328.97 L383.04,329.33 L384.15,329.69 L385.25,330.05 L386.36,330.40 L387.46,330.75 L388.56,331.10 L389.67,331.44 L390.77,331.78 L391.88,332.12 L392.98,332.46 L394.08,332.79 L395.19,333.12 L396.29,333.45 L397.40,333.78 L398.50,334.10 L399.60,334.42 L400.71,334.74 L401.81,335.05 L402.92,335.37 L404.02,335.68 L405.12,335.98 L406.23,336.29 L407.33,336.59 L408.44,336.89 L409.54,337.19 L410.64,337.49 L411.75,337.78 L412.85,338.07 L413.96,338.36 L415.06,338.65 L416.16,338.94 L417.27,339.22 L418.37,339.50 L419.48,339.78 L420.58,340.06 L421.68,340.33 L422.79,340.60 L423.89,340.87 L425.00,341.14 L426.10,341.41 L427.20,341.67 L428.31,341.94 L429.41,342.20 L430.52,342.46 L431.62,342.71 L432.72,342.97 L433.83,343.22 L434.93,343.48 L436.04,343.73 L437.14,343.97 L438.24,344.22 L439.35,344.47 L440.45,344.71 L441.56,344.95 L442.66,345.19 L443.76,345.43 L444.87,345.66 L445.97,345.90 L447.08,346.13 L448.18,346.36 L449.28,346.59 L450.39,346.82 L451.49,347.05 L452.60,347.28 L453.70,347.50 L454.80,347.72 L455.91,347.94 L457.01,348.16 L458.12,348.38 L459.22,348.60 L460.32,348.81 L461.43,349.03 L462.53,349.24 L463.64,349.45 L464.74,349.66 L465.84,349.87 L466.95,350.08 L468.05,350.28 L469.16,350.49 L470.26,350.69 L471.36,350.89 L472.47,351.09 L473.57,351.29 L474.68,351.49 L475.78,351.69 L476.88,351.88 L477.99,352.08 L479.09,352.27 L480.20,352.46 L481.30,352.65 L482.40,352.84 L483.51,353.03 L484.61,353.22 L485.72,353.41 L486.82,353.59 L487.92,353.77 L489.03,353.96 L490.13,354.14 L491.24,354.32 L492.34,354.50 L493.44,354.68 L494.55,354.86 L495.65,355.03 L496.76,355.21 L497.86,355.38 L498.96,355.56 L500.07,355.73 L501.17,355.90 L502.28,356.07 L503.38,356.24 L504.48,356.41 L505.59,356.57 L506.69,356.74 L507.80,356.91 L508.90,357.07 L510.00,357.24 L511.11,357.40 L512.21,357.56 L513.32,357.72 L514.42,357.88 L515.52,358.04 L516.63,358.20 L517.73,358.35 L518.84,358.51 L519.94,358.67 L521.04,358.82 L522.15,358.98 L523.25,359.13 L524.36,359.28 L525.46,359.43 L526.56,359.58 L527.67,359.73 L528.77,359.88 L529.88,360.03 L530.98,360.18 L532.08,360.32 L533.19,360.47 L534.29,360.61 L535.40,360.76 L536.50,360.90 L537.60,361.04 L538.71,361.18 L539.81,361.33 L540.92,361.47 L542.02,361.61 L543.12,361.74 L544.23,361.88 L545.33,362.02 L546.44,362.16 L547.54,362.29 L548.64,362.43 L549.75,362.56 L550.85,362.70 L551.96,362.83 L553.06,362.96 L554.16,363.09 L555.27,363.22 L556.37,363.35 L557.48,363.48 L558.58,363.61 L559.68,363.74 L560.79,363.87 L561.89,364.00 L563.00,364.12 L564.10,364.25 L565.20,364.38 L566.31,364.50 L567.41,364.62 L568.52,364.75 L569.62,364.87 L570.72,364.99 L571.83,365.11 L572.93,365.24 L574.04,365.36 L575.14,365.48 L576.24,365.59 L577.35,365.71 L578.45,365.83 L579.56,365.95 L580.66,366.07 L581.76,366.18 L582.87,366.30 L583.97,366.41 L585.08,366.53 L586.18,366.64 L587.28,366.76 L588.39,366.87 L589.49,366.98 L590.60,367.09 L591.70,367.21 L592.80,367.32 L593.91,367.43 L595.01,367.54 L596.12,367.65 L597.22,367.76 L598.32,367.86 L599.43,367.97 L600.53,368.08 L601.64,368.19 L602.74,368.29 L603.84,368.40 L604.95,368.50 L606.05,368.61 L607.16,368.71 L608.26,368.82 L609.36,368.92 L610.47,369.02 L611.57,369.13 L612.68,369.23 L613.78,369.33 L614.88,369.43 L615.99,369.53 L617.09,369.63 L618.20,369.73 L619.30,369.83 L620.40,369.93 L621.51,370.03 L622.61,370.13 L623.72,370.23 L624.82,370.32 L625.92,370.42 L627.03,370.52 L628.13,370.61 L629.24,370.71 L630.34,370.80 L631.44,370.90 L632.55,370.99 L633.65,371.09 L634.76,371.18 L635.86,371.27 L636.96,371.37 L638.07,371.46 L639.17,371.55 L640.28,371.64 L641.38,371.73 L642.48,371.82 L643.59,371.92 L644.69,372.01 L645.80,372.09 L646.90,372.18 L648.00,372.27 L649.11,372.36 L650.21,372.45 L651.32,372.54 L652.42,372.62 L653.52,372.71 L654.63,372.80 L655.73,372.89 L656.84,372.97 L657.94,373.06 L659.04,373.14 L660.15,373.23 L661.25,373.31 L662.36,373.40 L663.46,373.48 L664.56,373.56 L665.67,373.65 L666.77,373.73 L667.88,373.81 L668.98,373.89 L670.08,373.98 L671.19,374.06 L672.29,374.14 L673.40,374.22 L674.50,374.30" stroke="#000" stroke-width="1.5" stroke-dasharray="2.3 3.95" stroke-dashoffset="1.26"/>
<path d="M122.51,-352.17 L122.51,-346.58 L122.51,-340.98 L122.51,-335.39 L122.52,-329.79 L122.52,-324.20 L122.52,-318.60 L122.52,-313.01 L122.52,-307.42 L122.52,-301.82 L122.53,-296.23 L122.53,-290.63 L122.53,-285.04 L122.53,-279.44 L122.54,-273.85 L122.54,-268.25 L122.54,-262.66 L122.55,-257.07 L122.55,-251.47 L122.56,-245.88 L122.56,-240.28 L122.57,-234.69 L122.58,-229.09 L122.58,-223.50 L122.59,-217.90 L122.60,-212.31 L122.61,-206.72 L122.62,-201.12 L122.63,-195.53 L122.64,-189.93 L122.65,-184.34 L122.67,-178.74 L122.68,-173.15 L122.70,-167.56 L122.72,-161.96 L122.74,-156.37 L122.76,-150.77 L122.78,-145.18 L122.81,-139.58 L122.83,-133.99 L122.86,-128.39 L122.90,-122.80 L122.93,-117.21 L122.97,-111.61 L123.02,-106.02 L123.06,-100.42 L123.12,-94.83 L123.17,-89.23 L123.23,-83.64 L123.30,-78.04 L123.37,-72.45 L123.45,-66.86 L123.54,-61.26 L123.64,-55.67 L123.74,-50.07 L123.85,-44.48 L123.98,-38.89 L124.11,-33.29 L124.26,-27.70 L124.42,-22.10 L124.60,-16.51 L124.79,-10.92 L125.00,-5.32 L125.23,0.27 L125.47,5.87 L125.75,11.46 L126.04,17.05 L126.37,22.64 L126.72,28.24 L127.10,33.83 L127.53,39.42 L127.98,45.01 L128.49,50.60 L129.03,56.19 L129.63,61.78 L130.28,67.37 L130.99,72.96 L131.77,78.55 L132.62,84.13 L133.54,89.72 L134.64,95.77 L135.74,101.30 L136.83,106.39 L137.93,111.09 L139.03,115.48 L140.13,119.57 L141.23,123.42 L142.33,127.05 L143.42,130.48 L144.52,133.74 L145.62,136.83 L146.72,139.78 L147.82,142.60 L148.91,145.29 L150.01,147.88 L151.11,150.36 L152.21,152.75 L153.31,155.05 L154.41,157.26 L155.50,159.41 L156.60,161.48 L157.70,163.48 L158.80,165.42 L159.90,167.30 L160.99,169.13 L162.09,170.90 L163.19,172.62 L164.29,174.30 L165.39,175.93 L166.48,177.52 L167.58,179.07 L168.68,180.58 L169.78,182.06 L170.88,183.50 L171.98,184.91 L173.07,186.28 L174.17,187.63 L175.27,188.94 L176.37,190.23 L177.47,191.49 L178.56,192.73 L179.66,193.94 L180.76,195.12 L181.86,196.28 L182.96,197.43 L184.06,198.55 L185.15,199.64 L186.25,200.72 L187.35,201.78 L188.45,202.82 L189.55,203.85 L190.64,204.85 L191.74,205.84 L192.84,206.82 L193.94,207.77 L195.04,208.72 L196.14,209.64 L197.23,210.55 L198.33,211.45 L199.43,212.34 L200.53,213.21 L201.63,214.07 L202.72,214.92 L203.82,215.75 L204.92,216.57 L206.02,217.38 L207.12,218.18 L208.21,218.97 L209.31,219.75 L210.41,220.52 L211.51,221.27 L212.61,222.02 L213.71,222.76 L214.80,223.49 L215.90,224.21 L217.00,224.92 L218.10,225.62 L219.20,226.31 L220.29,227.00 L221.39,227.68 L222.49,228.34 L223.59,229.01 L224.69,229.66 L225.79,230.30 L226.88,230.94 L227.98,231.57 L229.08,232.20 L230.18,232.81 L231.28,233.42 L232.37,234.03 L233.47,234.63 L234.57,235.22 L235.67,235.80 L236.77,236.38 L237.87,236.95 L238.96,237.52 L240.06,238.08 L241.16,238.64 L242.26,239.19 L243.36,239.73 L244.45,240.27 L245.55,240.80 L246.65,241.33 L247.75,241.85 L248.85,242.37 L249.94,242.89 L251.04,243.39 L252.14,243.90 L253.24,244.40 L254.34,244.89 L255.44,245.38 L256.53,245.87 L257.63,246.35 L258.73,246.83 L259.83,247.30 L260.93,247.77 L262.02,248.23 L263.12,248.69 L264.22,249.15 L265.32,249.60 L266.42,250.05 L267.52,250.50 L268.61,250.94 L269.71,251.38 L270.81,251.81 L271.91,252.24 L273.01,252.67 L274.10,253.09 L275.20,253.51 L276.30,253.93 L277.40,254.34 L278.50,254.75 L279.60,255.16 L280.69,255.57 L281.79,255.97 L282.89,256.36 L283.99,256.76 L285.09,257.15 L286.18,257.54 L287.28,257.93 L288.38,258.31 L289.48,258.69 L290.58,259.07 L291.67,259.44 L292.77,259.81 L293.87,260.18 L294.97,260.55 L296.07,260.91 L297.17,261.27 L298.26,261.63 L299.36,261.99 L300.46,262.34 L301.56,262.69 L302.66,263.04 L303.75,263.39 L304.85,263.73 L305.95,264.08 L307.05,264.41 L308.15,264.75 L309.25,265.09 L310.34,265.42 L311.44,265.75 L312.54,266.08 L313.64,266.40 L314.74,266.73 L315.83,267.05 L316.93,267.37 L318.03,267.69 L319.13,268.00 L320.23,268.32 L321.33,268.63 L322.42,268.94 L323.52,269.25 L324.62,269.55 L325.72,269.86 L326.82,270.16 L327.91,270.46 L329.01,270.76 L330.11,271.05 L331.21,271.35 L332.31,271.64 L333.40,271.93 L334.50,272.22 L335.60,272.51 L336.70,272.80 L337.80,273.08 L338.90,273.37 L339.99,273.65 L341.09,273.93 L341.20,273.95 L341.31,273.98 L341.42,274.01 L341.53,274.04 L341.64,274.07 L341.75,274.09 L341.86,274.12 L341.98,274.15 L342.09,274.18 L342.20,274.21 L342.31,274.23 L342.42,274.26 L342.53,274.29 L342.64,274.32 L342.75,274.34 L342.86,274.37 L342.97,274.40 L343.08,274.43 L343.19,274.46 L343.30,274.49 L343.30,274.55 L343.30,274.56 L343.30,274.57 L343.30,274.58 L343.30,274.59 L343.30,274.61 L343.30,274.63 L343.30,274.65 L343.30,274.68 L343.30,274.71 L343.30,274.74 L343.30,274.78 L343.30,274.82 L343.30,274.87 L343.31,274.93 L343.31,275.00 L343.31,275.07 L343.31,275.16 L343.32,275.26 L343.32,275.38 L343.33,275.52 L343.34,275.67 L343.35,275.85 L343.37,276.05 L343.39,276.29 L343.41,276.56 L343.45,276.88 L343.50,277.24 L343.56,277.66 L343.64,278.14 L343.75,278.70 L343.90,279.34 L344.09,280.08 L344.34,280.95 L344.68,281.94 L345.12,283.10 L345.70,284.44 L346.47,286.00 L347.48,287.80 L348.82,289.89 L349.92,291.44 L351.03,292.88 L352.13,294.22 L353.24,295.48 L354.34,296.68 L355.44,297.82 L356.55,298.91 L357.65,299.95 L358.76,300.96 L359.86,301.93 L360.96,302.87 L362.07,303.77 L363.17,304.66 L364.28,305.51 L365.38,306.34 L366.48,307.15 L367.59,307.94 L368.69,308.71 L369.80,309.47 L370.90,310.20 L372.00,310.92 L373.11,311.62 L374.21,312.31 L375.32,312.99 L376.42,313.65 L377.52,314.30 L378.63,314.93 L379.73,315.56 L380.84,316.17 L381.94,316.78 L383.04,317.37 L384.15,317.95 L385.25,318.52 L386.36,319.09 L387.46,319.64 L388.56,320.19 L389.67,320.72 L390.77,321.25 L391.88,321.78 L392.98,322.29 L394.08,322.79 L395.19,323.29 L396.29,323.79 L397.40,324.27 L398.50,324.75 L399.60,325.22 L400.71,325.69 L401.81,326.15 L402.92,326.60 L404.02,327.05 L405.12,327.49 L406.23,327.93 L407.33,328.36 L408.44,328.79 L409.54,329.21 L410.64,329.62 L411.75,330.03 L412.85,330.44 L413.96,330.84 L415.06,331.24 L416.16,331.63 L417.27,332.02 L418.37,332.40 L419.48,332.78 L420.58,333.16 L421.68,333.53 L422.79,333.90 L423.89,334.26 L425.00,334.62 L426.10,334.97 L427.20,335.33 L428.31,335.67 L429.41,336.02 L430.52,336.36 L431.62,336.70 L432.72,337.03 L433.83,337.36 L434.93,337.69 L436.04,338.02 L437.14,338.34 L438.24,338.66 L439.35,338.97 L440.45,339.29 L441.56,339.60 L442.66,339.90 L443.76,340.21 L444.87,340.51 L445.97,340.81 L447.08,341.10 L448.18,341.39 L449.28,341.68 L450.39,341.97 L451.49,342.26 L452.60,342.54 L453.70,342.82 L454.80,343.10 L455.91,343.37 L457.01,343.65 L458.12,343.92 L459.22,344.19 L460.32,344.45 L461.43,344.72 L462.53,344.98 L463.64,345.24 L464.74,345.50 L465.84,345.75 L466.95,346.00 L468.05,346.25 L469.16,346.50 L470.26,346.75 L471.36,347.00 L472.47,347.24 L473.57,347.48 L474.68,347.72 L475.78,347.96 L476.88,348.19 L477.99,348.43 L479.09,348.66 L480.20,348.89 L481.30,349.12 L482.40,349.35 L483.51,349.57 L484.61,349.80 L485.72,350.02 L486.82,350.24 L487.92,350.46 L489.03,350.67 L490.13,350.89 L491.24,351.10 L492.34,351.31 L493.44,351.53 L494.55,351.74 L495.65,351.94 L496.76,352.15 L497.86,352.35 L498.96,352.56 L500.07,352.76 L501.17,352.96 L502.28,353.16 L503.38,353.36 L504.48,353.55 L505.59,353.75 L506.69,353.94 L507.80,354.13 L508.90,354.33 L510.00,354.52 L511.11,354.70 L512.21,354.89 L513.32,355.08 L514.42,355.26 L515.52,355.45 L516.63,355.63 L517.73,355.81 L518.84,355.99 L519.94,356.17 L521.04,356.35 L522.15,356.52 L523.25,356.70 L524.36,356.87 L525.46,357.05 L526.56,357.22 L527.67,357.39 L528.77,357.56 L529.88,357.73 L530.98,357.90 L532.08,358.06 L533.19,358.23 L534.29,358.39 L535.40,358.56 L536.50,358.72 L537.60,358.88 L538.71,359.04 L539.81,359.20 L540.92,359.36 L542.02,359.52 L543.12,359.67 L544.23,359.83 L545.33,359.99 L546.44,360.14 L547.54,360.29 L548.64,360.44 L549.75,360.60 L550.85,360.75 L551.96,360.90 L553.06,361.04 L554.16,361.19 L555.27,361.34 L556.37,361.49 L557.48,361.63 L558.58,361.78 L559.68,361.92 L560.79,362.06 L561.89,362.20 L563.00,362.34 L564.10,362.49 L565.20,362.62 L566.31,362.76 L567.41,362.90 L568.52,363.04 L569.62,363.18 L570.72,363.31 L571.83,363.45 L572.93,363.58 L574.04,363.71 L575.14,363.85 L576.24,363.98 L577.35,364.11 L578.45,364.24 L579.56,364.37 L580.66,364.50 L581.76,364.63 L582.87,364.76 L583.97,364.88 L585.08,365.01 L586.18,365.14 L587.28,365.26 L588.39,365.39 L589.49,365.51 L590.60,365.63 L591.70,365.76 L592.80,365.88 L593.91,366.00 L595.01,366.12 L596.12,366.24 L597.22,366.36 L598.32,366.48 L599.43,366.60 L600.53,366.71 L601.64,366.83 L602.74,366.95 L603.84,367.06 L604.95,367.18 L606.05,367.29 L607.16,367.41 L608.26,367.52 L609.36,367.63 L610.47,367.75 L611.57,367.86 L612.68,367.97 L613.78,368.08 L614.88,368.19 L615.99,368.30 L617.09,368.41 L618.20,368.52 L619.30,368.63 L620.40,368.73 L621.51,368.84 L622.61,368.95 L623.72,369.05 L624.82,369.16 L625.92,369.26 L627.03,369.37 L628.13,369.47 L629.24,369.58 L630.34,369.68 L631.44,369.78 L632.55,369.88 L633.65,369.99 L634.76,370.09 L635.86,370.19 L636.96,370.29 L638.07,370.39 L639.17,370.49 L640.28,370.58 L641.38,370.68 L642.48,370.78 L643.59,370.88 L644.69,370.98 L645.80,371.07 L646.90,371.17 L648.00,371.26 L649.11,371.36 L650.21,371.45 L651.32,371.55 L652.42,371.64 L653.52,371.74 L654.63,371.83 L655.73,371.92 L656.84,372.01 L657.94,372.11 L659.04,372.20 L660.15,372.29 L661.25,372.38 L662.36,372.47 L663.46,372.56 L664.56,372.65 L665.67,372.74 L666.77,372.83 L667.88,372.91 L668.98,373.00 L670.08,373.09 L671.19,373.18 L672.29,373.26 L673.40,373.35 L674.50,373.44" stroke="#000" stroke-width="1.7"/>
</g>
<rect x="122.5" y="12.5" width="552" height="402" fill="none" stroke="#000" stroke-width="2.3" stroke-linejoin="round"/>
</svg>
</body></html>
